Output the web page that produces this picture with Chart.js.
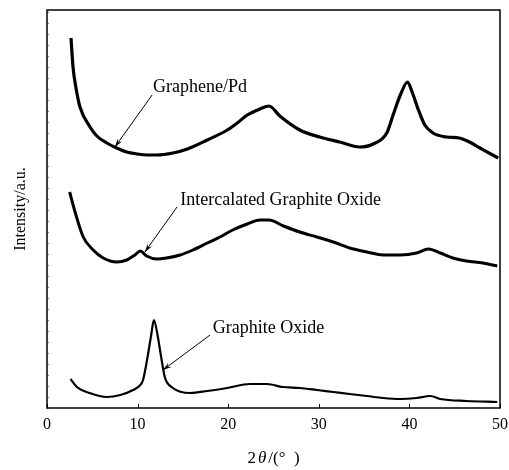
<!DOCTYPE html>
<html>
<head>
<meta charset="utf-8">
<script src="https://cdn.jsdelivr.net/npm/chart.js@4/dist/chart.umd.min.js"></script>
<style>
  html, body { margin: 0; padding: 0; background: #fff; }
  #wrap { width: 509px; height: 470px; position: relative; }
</style>
</head>
<body>
<div id="wrap"><canvas id="c"></canvas></div>
<script>
// ---- Data (intensity in arbitrary units) ----
const xTickValues = [0, 10, 20, 30, 40, 50];
const xTickLabels = ["0", "10", "20", "30", "40", "50"];

const grapheneX = [2.65, 2.87, 3.2, 3.64, 4.75, 5.5, 6.6, 7.7, 8.8, 10, 11, 12.1, 13.9, 15.5, 17.7, 19.9, 21, 22.1, 23.5, 24.5, 25.7, 27.9, 30.1, 32.3, 34.5, 36, 37.5, 38.2, 39, 39.8, 40.3, 41, 41.7, 42.6, 44.1, 45.5, 46.4, 47.8, 49.8];
const grapheneY = [370, 341, 320, 301, 281, 272, 265, 260, 256, 254, 253, 253, 255, 259, 268, 278, 285, 293, 299, 302, 292, 278, 271, 266, 261, 264, 275, 293, 313, 326, 316, 298, 283, 275, 271, 270, 267, 260, 250];

const intercalX = [2.5, 3.1, 4.0, 5.1, 6.2, 7.7, 8.8, 9.7, 10.3, 11.0, 12.1, 13.2, 14.7, 16.1, 17.7, 19.1, 20.5, 22.1, 23.5, 24.5, 26.1, 27.9, 29.8, 31.6, 33.4, 35.3, 37.1, 39, 40.8, 42.1, 43.4, 44.8, 46.3, 48.1, 49.7];
const intercalY = [216, 196, 171, 158, 150, 146, 148, 153, 157, 152, 149, 150, 153, 158, 165, 171, 178, 184, 188, 188, 182, 176, 171, 166, 160, 156, 153, 153, 155, 159, 155, 150, 147, 145, 142];

const oxideX = [2.6, 3.3, 4.7, 6.6, 8.1, 9.5, 10.3, 10.6, 11.1, 11.5, 11.8, 12.2, 12.6, 13.0, 13.9, 15.8, 17.7, 19.9, 22.4, 24.3, 26, 27.9, 29.8, 31.6, 33.4, 35.3, 37.1, 39, 40.8, 42.3, 43.4, 46.3, 49.7];
const oxideY = [29, 21, 15, 11, 13, 18, 23, 28, 51, 73, 88, 73, 51, 31, 20, 15, 17, 20, 24, 24, 21, 20, 18, 16, 14, 12, 10, 9, 10, 12, 9, 7, 6];

const seriesNames = ["Graphene/Pd", "Intercalated Graphite Oxide", "Graphite Oxide"];
// label anchor (text left, middle) and arrow from/to, in data units
const labelAt   = [[11.7, 321], [14.7, 208], [18.3, 80]];
const arrowFrom = [[11.6, 313], [14.35, 201], [18.0, 73]];
const arrowTo   = [[7.5, 261], [10.8, 156], [12.8, 38]];

const xTitle = ["2", "θ", "/(°  )"];
const yTitle = "Intensity/a.u.";

const SERIF = '"Liberation Serif", "DejaVu Serif", serif';

function pts(xs, ys) { return xs.map((x, i) => ({ x: x, y: ys[i] })); }

const deco = {
  id: 'deco',
  afterDatasetsDraw(chart) {
    const { ctx, chartArea: a, scales } = chart;
    const xs = scales.x, ys = scales.y;
    ctx.save();
    // frame
    ctx.strokeStyle = '#000';
    ctx.lineWidth = 1.5;
    ctx.strokeRect(a.left, a.top, a.right - a.left, a.bottom - a.top);
    // bottom inward ticks
    ctx.lineWidth = 1;
    xTickValues.forEach(v => {
      const px = Math.round(xs.getPixelForValue(v)) + 0.5;
      ctx.beginPath(); ctx.moveTo(px, a.bottom); ctx.lineTo(px, a.bottom - 4); ctx.stroke();
    });
    // left small inward ticks
    ctx.strokeStyle = 'rgba(0,0,0,0.5)';
    for (let v = 0; v <= 398; v += 11) {
      const py = Math.round(ys.getPixelForValue(v)) + 0.5;
      ctx.beginPath(); ctx.moveTo(a.left, py); ctx.lineTo(a.left + 2, py); ctx.stroke();
    }
    // annotations
    ctx.strokeStyle = '#000';
    ctx.fillStyle = '#000';
    ctx.font = '18px ' + SERIF;
    ctx.textBaseline = 'middle';
    ctx.textAlign = 'left';
    seriesNames.forEach((name, i) => {
      ctx.fillText(name, xs.getPixelForValue(labelAt[i][0]), ys.getPixelForValue(labelAt[i][1]));
      const x1 = xs.getPixelForValue(arrowFrom[i][0]), y1 = ys.getPixelForValue(arrowFrom[i][1]);
      const x2 = xs.getPixelForValue(arrowTo[i][0]), y2 = ys.getPixelForValue(arrowTo[i][1]);
      ctx.lineWidth = 1;
      ctx.beginPath(); ctx.moveTo(x1, y1); ctx.lineTo(x2, y2); ctx.stroke();
      const ang = Math.atan2(y2 - y1, x2 - x1), L = 9, w = 0.3;
      ctx.beginPath();
      ctx.moveTo(x2, y2);
      ctx.lineTo(x2 - L * Math.cos(ang - w), y2 - L * Math.sin(ang - w));
      ctx.lineTo(x2 - L * 0.6 * Math.cos(ang), y2 - L * 0.6 * Math.sin(ang));
      ctx.lineTo(x2 - L * Math.cos(ang + w), y2 - L * Math.sin(ang + w));
      ctx.closePath(); ctx.fill();
    });
    // x title with italic theta
    const cx = (a.left + a.right) / 2, ty = a.bottom + 51;
    const f1 = '17px ' + SERIF, f2 = 'italic 17px ' + SERIF;
    ctx.font = f1; const w0 = ctx.measureText(xTitle[0]).width + 2;
    ctx.font = f2; const w1 = ctx.measureText(xTitle[1]).width + 2;
    ctx.font = f1; const w2 = ctx.measureText(xTitle[2]).width;
    let sx = cx - (w0 + w1 + w2) / 2;
    ctx.font = f1; ctx.fillText(xTitle[0], sx, ty); sx += w0;
    ctx.font = f2; ctx.fillText(xTitle[1], sx, ty); sx += w1;
    ctx.font = f1; ctx.fillText(xTitle[2], sx, ty);
    ctx.restore();
  }
};

const line = (d, w) => ({
  data: d, borderColor: '#000', backgroundColor: '#000', borderWidth: w,
  pointRadius: 0, fill: false, cubicInterpolationMode: 'monotone'
});

new Chart(document.getElementById('c'), {
  type: 'line',
  data: {
    datasets: [
      Object.assign(line(pts(grapheneX, grapheneY), 3.2), { label: seriesNames[0] }),
      Object.assign(line(pts(intercalX, intercalY), 3), { label: seriesNames[1] }),
      Object.assign(line(pts(oxideX, oxideY), 2.2), { label: seriesNames[2] })
    ]
  },
  options: {
    responsive: true,
    maintainAspectRatio: false,
    animation: false,
    devicePixelRatio: 1,
    layout: { padding: { top: 10, right: 9, left: 0, bottom: 0 } },
    plugins: { legend: { display: false }, tooltip: { enabled: false } },
    scales: {
      x: {
        type: 'linear', min: 0, max: 50,
        afterFit: s => { s.height = 62; s.paddingLeft = 0; s.paddingRight = 0; },
        afterBuildTicks: s => { s.ticks = xTickValues.map(v => ({ value: v })); },
        grid: { display: false, drawTicks: false },
        border: { display: false },
        ticks: {
          padding: 7, color: '#000', font: { family: SERIF, size: 16 },
          maxRotation: 0, autoSkip: false,
          callback: (v) => xTickLabels[xTickValues.indexOf(v)]
        }
      },
      y: {
        type: 'linear', min: 0, max: 398,
        afterFit: s => { s.width = 47; },
        grid: { display: false, drawTicks: false },
        border: { display: false },
        ticks: { display: false },
        title: {
          display: true, text: yTitle, color: '#000',
          font: { family: SERIF, size: 16 }, padding: { top: 11, bottom: 0 }
        }
      }
    }
  },
  plugins: [deco]
});
</script>
</body>
</html>
